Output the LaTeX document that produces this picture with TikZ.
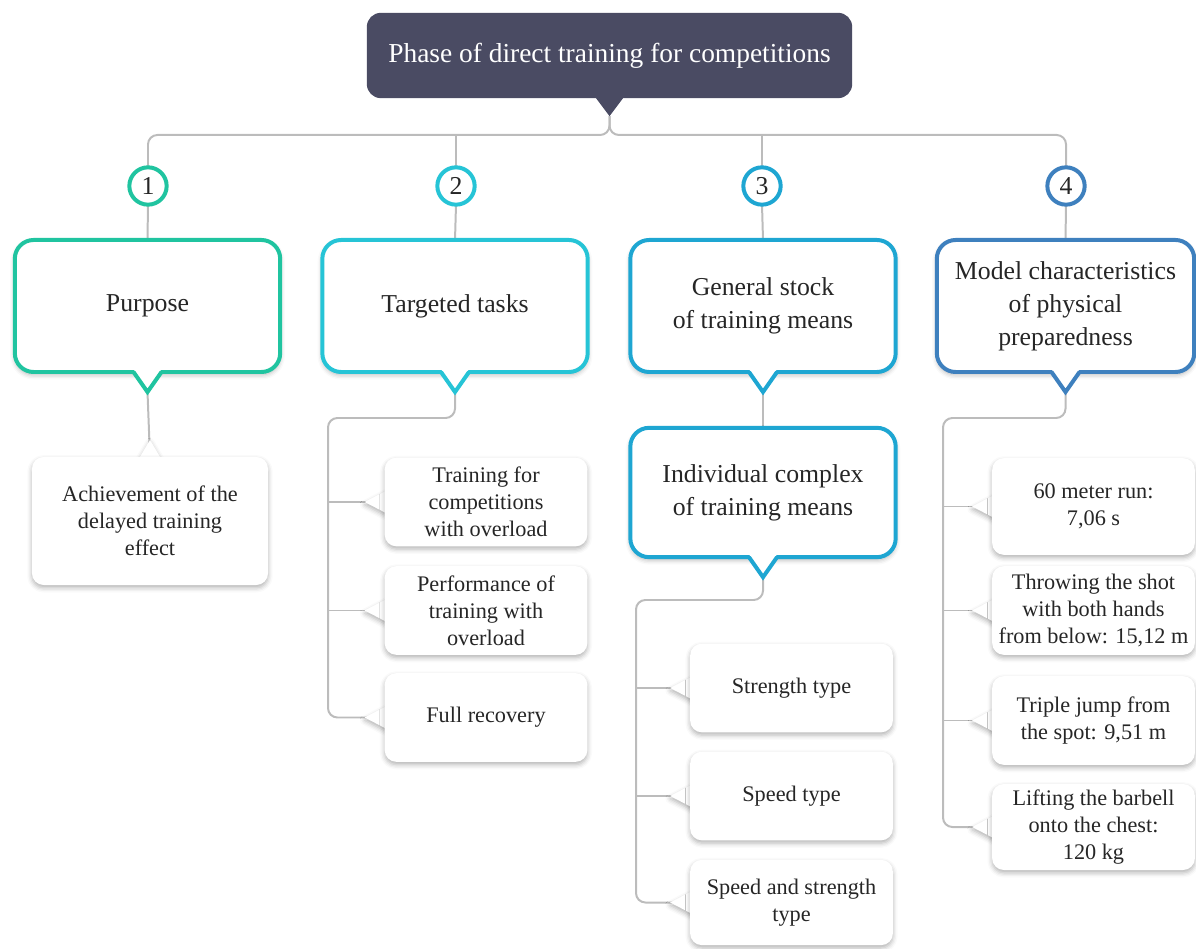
\documentclass[tikz,border=0pt]{standalone}
\usepackage{fontspec}
\setmainfont{Liberation Serif}
\usetikzlibrary{calc,backgrounds,shadows.blur}
\definecolor{titlebg}{RGB}{74,75,99}
\definecolor{cA}{RGB}{32,196,160}
\definecolor{cB}{RGB}{38,196,214}
\definecolor{cC}{RGB}{30,166,210}
\definecolor{cD}{RGB}{62,128,190}
\definecolor{linkgray}{RGB}{188,188,188}

\begin{document}
\begin{tikzpicture}[x=0.015cm,y=-0.015cm,inner sep=0pt,outer sep=0pt,
softshadow/.style={blur shadow={shadow xshift=0pt,shadow yshift=-1.2pt,shadow blur radius=2pt,shadow opacity=30}},
link/.style={draw=linkgray,line width=0.85pt},
headbox/.style={draw=#1,line width=1.7pt,fill=white,rounded corners=8pt,minimum width=3.98cm,minimum height=1.98cm,align=center,text=black!85,font=\fontsize{11}{14.1}\selectfont,softshadow},
numring/.style={draw=#1,circle,line width=1.7pt,fill=white,minimum size=0.56cm,text=black!85,font=\fontsize{11}{13}\selectfont},
itembox/.style={fill=white,rounded corners=5pt,minimum width=3.04cm,minimum height=1.33cm,align=center,text=black!85,font=\fontsize{9.5}{11.5}\selectfont,softshadow},
tailfill/.style={fill=white,softshadow}]
\useasboundingbox (0,0) rectangle (1196,949);

% title
\draw (609.5,55.5) node[fill=titlebg,rounded corners=6pt,minimum width=7.28cm,minimum height=1.28cm,text=white,font=\fontsize{11.7}{14}\selectfont] (ttl) {Phase of direct training for competitions};
\fill[titlebg] ($(ttl.south)+(-15,-2)$) -- ($(ttl.south)+(0,18)$) coordinate (ttl-tip) -- ($(ttl.south)+(15,-2)$) -- cycle;

% number rings
\draw (148,186) node[numring=cA] (n1) {1};
\draw (456,186) node[numring=cB] (n2) {2};
\draw (762,186) node[numring=cC] (n3) {3};
\draw (1066,186) node[numring=cD] (n4) {4};

% stage boxes
\draw (147.5,306) node[headbox=cA] (b1) {Purpose};
\draw (455,306) node[headbox=cB] (b2) {Targeted tasks};
\draw (763,306) node[headbox=cC] (b3) {General stock\\of training means};
\draw (1065.5,306) node[headbox=cD,minimum width=3.86cm] (b4) {Model characteristics\\of physical\\preparedness};
\draw (763,492.5) node[headbox=cC,minimum height=1.94cm] (b5) {Individual complex\\of training means};

% pointers under the stage boxes
\foreach \b/\c in {b1/cA,b2/cB,b3/cC,b4/cD,b5/cC}{
  \fill[white] ($(\b.south)+(-14,-3)$) -- ($(\b.south)+(0,20)$) -- ($(\b.south)+(14,-3)$) -- cycle;
  \draw[\c,line width=1.7pt,line join=miter] ($(\b.south)+(-14,0)$) -- ($(\b.south)+(0,20)$) coordinate (\b-tip) -- ($(\b.south)+(14,0)$);
}

% items
\draw (150,521) node[itembox,minimum width=3.54cm,minimum height=1.92cm] (ach) {Achievement of the\\delayed training\\effect};
\draw (486,502) node[itembox] (t2a) {Training for\\competitions\\with overload};
\draw (486,610.5) node[itembox] (t2b) {Performance of\\training with\\overload};
\draw (486,717.5) node[itembox] (t2c) {Full recovery};
\draw (791.5,688) node[itembox] (t3a) {Strength type};
\draw (791.5,796) node[itembox] (t3b) {Speed type};
\draw (791.5,902.5) node[itembox,minimum height=1.28cm] (t3c) {Speed and strength\\type};
\draw (1093.5,506.5) node[itembox,minimum height=1.45cm] (t4a) {60 meter run:\\7,06 s};
\draw (1093.5,610.5) node[itembox] (t4b) {Throwing the shot\\with both hands\\from below: 15,12 m};
\draw (1093.5,720.5) node[itembox] (t4c) {Triple jump from\\the spot: 9,51 m};
\draw (1093.5,827) node[itembox,minimum height=1.29cm] (t4d) {Lifting the barbell\\onto the chest:\\120 kg};

\begin{pgfonlayer}{background}
% tree lines
\coordinate (bar) at (608,135);
\draw[link,rounded corners=4pt] (ttl-tip) |- (n1.north |- bar) -- (n1.north);
\draw[link,rounded corners=4pt] (ttl-tip) |- (n4.north |- bar) -- (n4.north);
\draw[link] (n2.north |- bar) -- (n2.north);
\draw[link] (n3.north |- bar) -- (n3.north);
\foreach \i in {1,...,4} \draw[link] (n\i.south) -- (b\i.north);
\draw[link] (b1-tip) -- (ach.north);
\draw[link] (b3-tip) -- (b5.north);

\coordinate (s2) at (328,418);
\coordinate (s3) at (636,600);
\coordinate (s4) at (943,418);
\draw[link,rounded corners=4pt] (b2-tip) |- (s2) |- (t2c.west);
\draw[link,rounded corners=4pt] (b5-tip) |- (s3) |- (t3c.west);
\draw[link,rounded corners=4pt] (b4-tip) |- (s4) |- (t4d.west);
\foreach \k in {t2a,t2b} \draw[link] (s2 |- \k.west) -- (\k.west);
\foreach \k in {t3a,t3b} \draw[link] (s3 |- \k.west) -- (\k.west);
\foreach \k in {t4a,t4b,t4c} \draw[link] (s4 |- \k.west) -- (\k.west);

% tails of the items
\foreach \k in {t2a,t2b,t2c,t3a,t3b,t3c,t4a,t4b,t4c,t4d}
  \fill[tailfill] ($(\k.west)+(5,-13)$) -- ($(\k.west)+(-20,0)$) -- ($(\k.west)+(5,13)$) -- cycle;
\fill[tailfill] ($(ach.north)+(-13,5)$) -- ($(ach.north)+(0,-17)$) -- ($(ach.north)+(13,5)$) -- cycle;
\end{pgfonlayer}
\end{tikzpicture}
\end{document}
